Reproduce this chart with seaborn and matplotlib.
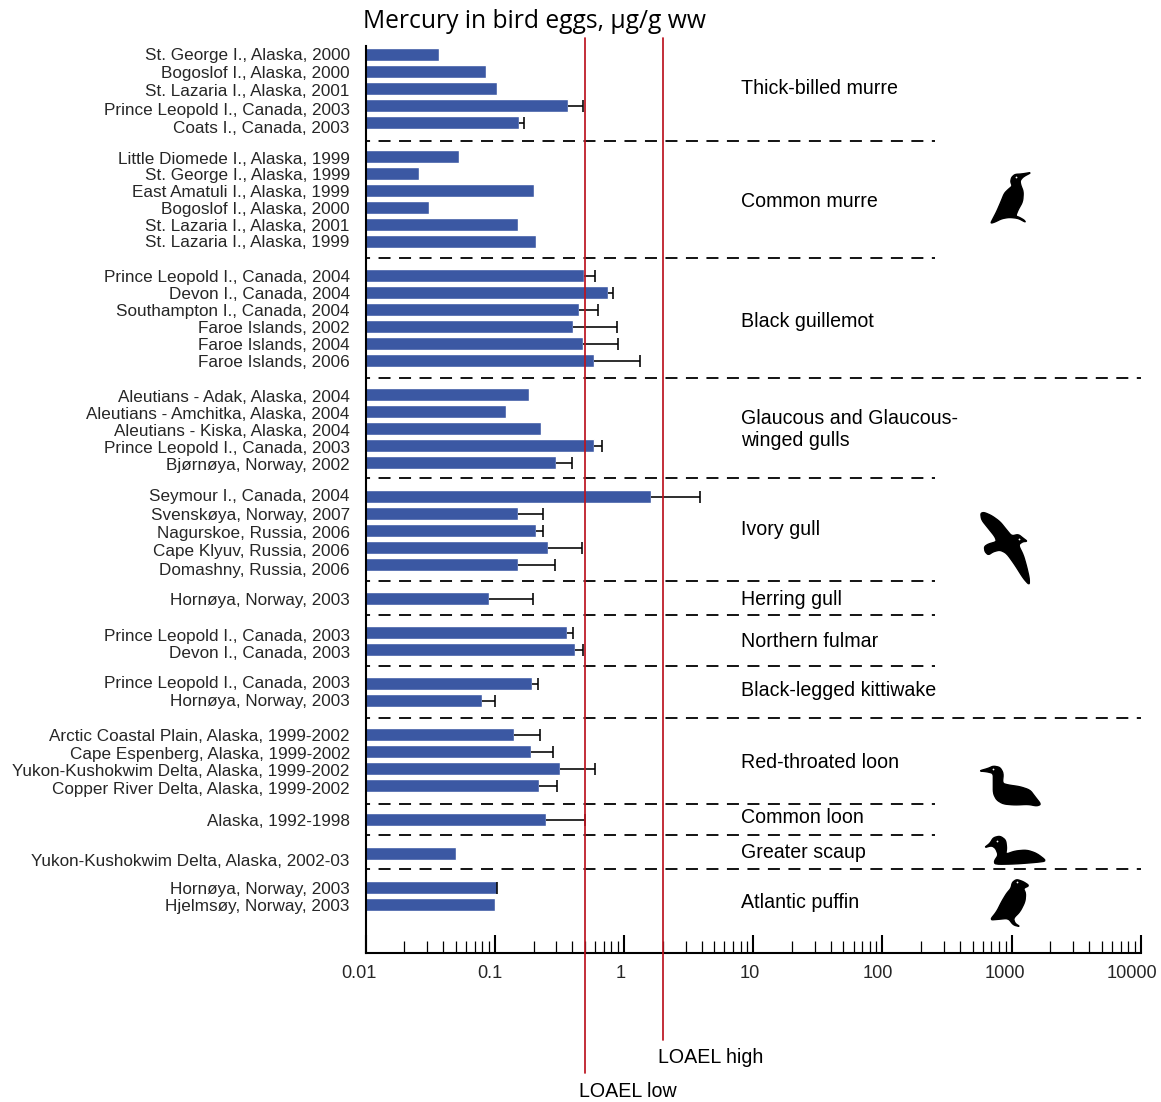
import numpy as np
import pandas as pd
import matplotlib
matplotlib.use("Agg")
import matplotlib.pyplot as plt
from matplotlib.lines import Line2D
from matplotlib.patches import Polygon
from matplotlib.ticker import LogLocator, NullFormatter, FixedLocator, FixedFormatter
from matplotlib.transforms import ScaledTranslation
import seaborn as sns

W, H = 1161, 1102

# data
species = ["Thick-billed murre", "Common murre", "Black guillemot",
           "Glaucous and Glaucous-\nwinged gulls", "Ivory gull", "Herring gull",
           "Northern fulmar", "Black-legged kittiwake", "Red-throated loon",
           "Common loon", "Greater scaup", "Atlantic puffin"]
group_sizes = [5, 6, 6, 5, 5, 1, 2, 2, 4, 1, 1, 2]

sites = ["St. George I., Alaska, 2000", "Bogoslof I., Alaska, 2000", "St. Lazaria I., Alaska, 2001",
         "Prince Leopold I., Canada, 2003", "Coats I., Canada, 2003",
         "Little Diomede I., Alaska, 1999", "St. George I., Alaska, 1999", "East Amatuli I., Alaska, 1999",
         "Bogoslof I., Alaska, 2000", "St. Lazaria I., Alaska, 2001", "St. Lazaria I., Alaska, 1999",
         "Prince Leopold I., Canada, 2004", "Devon I., Canada, 2004", "Southampton I., Canada, 2004",
         "Faroe Islands, 2002", "Faroe Islands, 2004", "Faroe Islands, 2006",
         "Aleutians - Adak, Alaska, 2004", "Aleutians - Amchitka, Alaska, 2004", "Aleutians - Kiska, Alaska, 2004",
         "Prince Leopold I., Canada, 2003", "Bjørnøya, Norway, 2002",
         "Seymour I., Canada, 2004", "Svenskøya, Norway, 2007", "Nagurskoe, Russia, 2006",
         "Cape Klyuv, Russia, 2006", "Domashny, Russia, 2006",
         "Hornøya, Norway, 2003",
         "Prince Leopold I., Canada, 2003", "Devon I., Canada, 2003",
         "Prince Leopold I., Canada, 2003", "Hornøya, Norway, 2003",
         "Arctic Coastal Plain, Alaska, 1999-2002", "Cape Espenberg, Alaska, 1999-2002",
         "Yukon-Kushokwim Delta, Alaska, 1999-2002", "Copper River Delta, Alaska, 1999-2002",
         "Alaska, 1992-1998",
         "Yukon-Kushokwim Delta, Alaska, 2002-03",
         "Hornøya, Norway, 2003", "Hjelmsøy, Norway, 2003"]

hg_mean = [0.037, 0.085, 0.104, 0.369, 0.154,
           0.053, 0.026, 0.201, 0.031, 0.151, 0.208,
           0.495, 0.752, 0.449, 0.404, 0.483, 0.589,
           0.184, 0.122, 0.228, 0.589, 0.298,
           1.62, 0.151, 0.208, 0.258, 0.151,
           0.090,
           0.363, 0.417,
           0.195, 0.080,
           0.141, 0.190, 0.321, 0.220,
           0.249,
           0.050,
           0.104, 0.100]

hg_upper = [np.nan, np.nan, np.nan, 0.48, 0.168,
            np.nan, np.nan, np.nan, np.nan, np.nan, np.nan,
            0.598, 0.83, 0.634, 0.885, 0.90, 1.33,
            np.nan, np.nan, np.nan, 0.682, 0.394,
            3.90, 0.237, 0.237, 0.476, 0.294,
            0.198,
            0.404, 0.48,
            0.217, 0.100,
            0.226, 0.284, 0.593, 0.306,
            0.50,
            np.nan,
            0.105, np.nan]

loael_low = 0.5
loael_high = 2.0

tick_values = [0.01, 0.1, 1, 10, 100, 1000, 10000]
tick_labels = ["0.01", "0.1", "1", "10", "100", "1000", "10000"]

# layout, in pixels of the figure
row_top = 54.5
row_pitch = 17.0
label_px = [54, 72, 90, 109, 127, 158, 174, 191, 208, 225, 241,
            276, 293, 310, 327, 344, 361, 396, 413, 430, 447, 464,
            495, 514, 532, 550, 569, 599, 635, 652, 682, 700,
            735, 753, 770, 788, 820, 860, 888, 905]
species_px = [88, 201.4, 321.4, 430, 529.4, 599.4, 641.4, 690, 762, 817.4, 852, 902]
sep_nudge_px = [1.5, -0.5, 0.5, -1.5, -0.5, -0.5, -0.5, 0.5, 1.5, -1.5, -1.5]
sep_full = [False, False, True, False, False, False, False, True, False, False, True]
tick_shift_px = [-6.5, -5, -3, -3, -4.5, -7, -8.5]

bar_color = "#3B58A3"
red = "#BC1420"

# silhouettes are traced by hand, (origin x, origin y, zoom points, eye)
murre = (960, 160, [(215, 37), (185, 42), (165, 43), (155, 52), (152, 65), (157, 78), (145, 88), (133, 100),
                    (123, 125), (110, 155), (98, 178), (92, 190), (105, 186), (125, 176), (148, 172),
                    (175, 175), (197, 187), (192, 180), (178, 172), (167, 168), (174, 150), (188, 125),
                    (190, 95), (182, 75), (180, 62), (190, 50)], (168, 52))
gull = (960, 500, [(62, 40), (72, 37), (95, 47), (120, 65), (140, 90), (155, 108), (175, 103), (190, 115),
                   (202, 124), (188, 125), (175, 135), (190, 165), (200, 200), (208, 235), (208, 255),
                   (190, 235), (165, 195), (140, 160), (120, 150), (100, 155), (85, 165), (75, 155),
                   (73, 140), (85, 132), (110, 125), (105, 110), (85, 85), (65, 60)], (178, 117))
loon = (965, 755, [(42, 48), (70, 40), (85, 33), (105, 37), (115, 55), (112, 85), (130, 90), (165, 95),
                   (195, 105), (210, 125), (228, 148), (215, 153), (190, 148), (150, 150), (115, 147),
                   (95, 135), (85, 115), (85, 80), (85, 55), (65, 50)], (85, 42))
scaup = (965, 755, [(58, 278), (75, 265), (85, 248), (105, 243), (122, 255), (125, 280), (122, 298), (150, 288),
                    (185, 285), (215, 295), (245, 318), (215, 322), (150, 327), (90, 328), (88, 318),
                    (100, 300), (92, 280), (80, 272)], (97, 257))
puffin = (965, 755, [(193, 392), (175, 380), (155, 373), (142, 382), (138, 400), (125, 415), (110, 440),
                     (95, 470), (75, 495), (100, 493), (130, 490), (145, 510), (165, 515), (150, 505),
                     (145, 490), (165, 470), (180, 440), (182, 415), (175, 400)], (157, 382))

sns.set_theme(style="white")
plt.rcParams["font.family"] = ["Liberation Sans", "DejaVu Sans"]
fs_site = 12.3
fs_tick = 13.1
fs_name = 14.1

# one slot per bar and one empty slot between groups
order = []
row_ids = []
n = 0
for g, size in enumerate(group_sizes):
    for i in range(size):
        row_ids.append(f"r{n}")
        order.append(f"r{n}")
        n += 1
    if g < len(group_sizes) - 1:
        order.append(f"gap{g}")
df = pd.DataFrame({"row": row_ids, "site": sites, "hg": hg_mean, "upper": hg_upper})
slot = {name: i for i, name in enumerate(order)}
df["pos"] = df["row"].map(slot)


def px_to_row(y):
    return (np.asarray(y, dtype=float) - row_top) / row_pitch


def smooth(pts, rounds=2):
    # corner cutting so the outlines are less angular
    pts = np.asarray(pts, dtype=float)
    for _ in range(rounds):
        nxt = np.roll(pts, -1, axis=0)
        pts = np.column_stack([0.8 * pts + 0.2 * nxt, 0.2 * pts + 0.8 * nxt]).reshape(-1, 2)
    return pts


fig = plt.figure(figsize=(W / 100, H / 100), dpi=100)
ax = fig.add_axes([365.5 / W, 1 - 953 / H, (1140.7 - 365.5) / W, (953 - 46) / H])

sns.barplot(data=df, x="hg", y="row", order=order, orient="y", color=bar_color, saturation=1,
            width=13 / 17, errorbar=None, log_scale=True, ax=ax)
# bars start at 0, which the log scale would mask otherwise
ax.set_xscale("log", nonpositive="clip")
ax.set_xlim(0.01, 10000)
ax.set_ylim(px_to_row(953), px_to_row(46))
ax.set_xlabel("")
ax.set_ylabel("")

# upper whiskers only
err = df.dropna(subset=["upper"])
ax.hlines(err["pos"], err["hg"], err["upper"], color="black", lw=1.15, zorder=4)
ax.plot(err["upper"], err["pos"], ls="none", marker="|", ms=9.2, mew=1.15, color="black", zorder=4)

# dashed lines between the groups
gap_rows = [slot[f"gap{g}"] for g in range(len(group_sizes) - 1)]
for gap, nudge, full in zip(gap_rows, sep_nudge_px, sep_full):
    end = 1.0 if full else (935 - 365.5) / (1140.7 - 365.5)
    ax.plot([0, end], [gap + nudge / row_pitch] * 2, color="black", lw=1.3, ls=(4.4, (6.65, 4.7)),
            transform=ax.get_yaxis_transform(), zorder=3, clip_on=False, dash_capstyle="butt")

# LOAEL lines stick out of the axes
tr = ax.get_xaxis_transform()
to_frac = lambda y: (953 - y) / (953 - 46)
ax.plot([loael_low] * 2, [to_frac(1073), to_frac(38)], color=red, lw=1.25, transform=tr, clip_on=False, zorder=5)
ax.plot([loael_high] * 2, [to_frac(1040), to_frac(38)], color=red, lw=1.25, transform=tr, clip_on=False, zorder=5)

# axes
sns.despine(ax=ax, top=True, right=True)
for side in ["left", "bottom"]:
    ax.spines[side].set_linewidth(1.5)
    ax.spines[side].set_color("black")

ax.xaxis.set_major_locator(FixedLocator(tick_values))
ax.xaxis.set_major_formatter(FixedFormatter(tick_labels))
ax.xaxis.set_minor_locator(LogLocator(base=10, subs=range(2, 10), numticks=20))
ax.xaxis.set_minor_formatter(NullFormatter())
ax.tick_params(axis="x", which="major", direction="in", length=13, width=1.5, color="black",
               labelsize=fs_tick, pad=9, bottom=True)
ax.tick_params(axis="x", which="minor", direction="in", length=8.6, width=0.9, color="black", bottom=True)
for lab, dx in zip(ax.get_xticklabels(), tick_shift_px):
    lab.set_transform(lab.get_transform() + ScaledTranslation(dx / 100, 0, fig.dpi_scale_trans))

# site labels are a little off the bars in the original, so they get their own places
ax.yaxis.set_major_locator(FixedLocator(px_to_row(label_px)))
ax.yaxis.set_major_formatter(FixedFormatter(sites))
ax.tick_params(axis="y", which="major", left=False, labelsize=fs_site, pad=5.3)

# species names
for name, y in zip(species, species_px):
    fig.text(741 / W, 1 - y / H, name, fontsize=fs_name, ha="left", va="center", linespacing=1.2, color="black")

fig.text(363 / W, 1 - 22 / H, "Mercury in bird eggs, µg/g ww", fontsize=17.7, ha="left", va="center",
         family=["Open Sans", "DejaVu Sans"], color="black")
fig.text(579 / W, 1 - 1091.5 / H, "LOAEL low", fontsize=fs_name, ha="left", va="center", color="black")
fig.text(658 / W, 1 - 1057.5 / H, "LOAEL high", fontsize=fs_name, ha="left", va="center", color="black")

for ox, oy, pts, eye in [murre, gull, loon, scaup, puffin]:
    xy = [((ox + zx / 3) / W, 1 - (oy + zy / 3) / H) for zx, zy in smooth(pts)]
    fig.add_artist(Polygon(xy, closed=True, facecolor="black", edgecolor="black", lw=1.0,
                           joinstyle="round", transform=fig.transFigure))
    fig.add_artist(Line2D([(ox + eye[0] / 3) / W], [1 - (oy + eye[1] / 3) / H], marker="o", ms=1.3, mew=0,
                          color="white", transform=fig.transFigure))

fig.savefig("out.png", dpi=100)
